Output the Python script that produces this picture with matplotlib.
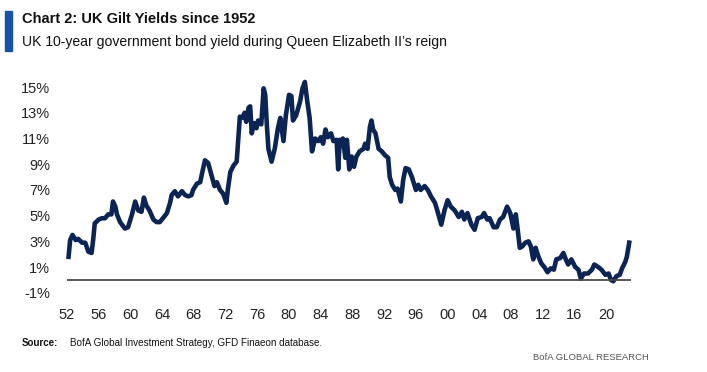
import matplotlib
matplotlib.use('Agg')
import matplotlib.pyplot as plt
from matplotlib.patches import Rectangle

# 10-year gilt yield (%), by fractional year
years = [
    1952.2, 1952.4, 1952.7, 1953.1, 1953.4, 1953.9, 1954.3, 1954.7, 1955.1, 1955.3,
    1955.5, 1956.0, 1956.4, 1956.8, 1957.2, 1957.6, 1957.8, 1958.1, 1958.3, 1958.7,
    1959.3, 1959.7, 1960.2, 1960.6, 1961.0, 1961.4, 1961.7, 1962.0, 1962.4, 1962.9,
    1963.3, 1963.7, 1964.1, 1964.6, 1965.0, 1965.2, 1965.6, 1966.0, 1966.5, 1966.9,
    1967.3, 1967.7, 1967.9, 1968.4, 1968.8, 1969.0, 1969.4, 1969.8, 1970.2, 1970.6,
    1970.9, 1971.3, 1971.7, 1972.1, 1972.3, 1972.6, 1973.0, 1973.4, 1973.6, 1973.8,
    1974.1, 1974.4, 1974.6, 1974.9, 1975.1, 1975.3, 1975.6, 1975.9, 1976.1, 1976.5,
    1976.8, 1977.0, 1977.2, 1977.4, 1977.8, 1978.2, 1978.6, 1978.9, 1979.3, 1979.6,
    1980.0, 1980.3, 1980.5, 1980.9, 1981.4, 1981.7, 1982.0, 1982.3, 1982.6, 1982.9,
    1983.3, 1983.7, 1984.0, 1984.3, 1984.6, 1984.9, 1985.3, 1985.6, 1986.0, 1986.2,
    1986.4, 1986.6, 1986.8, 1987.1, 1987.3, 1987.6, 1987.9, 1988.2, 1988.5, 1988.9,
    1989.4, 1989.6, 1989.9, 1990.2, 1990.4, 1990.6, 1990.9, 1991.3, 1991.7, 1992.1,
    1992.5, 1992.7, 1993.0, 1993.4, 1993.7, 1994.1, 1994.4, 1994.7, 1995.1, 1995.5,
    1996.0, 1996.3, 1996.6, 1997.1, 1997.5, 1997.9, 1998.4, 1998.7, 1999.2, 1999.6,
    2000.0, 2000.4, 2000.9, 2001.4, 2001.8, 2002.1, 2002.5, 2003.0, 2003.4, 2003.8,
    2004.3, 2004.6, 2005.0, 2005.3, 2005.8, 2006.2, 2006.6, 2007.0, 2007.5, 2007.9,
    2008.3, 2008.6, 2008.8, 2009.1, 2009.4, 2009.8, 2010.2, 2010.5, 2010.8, 2011.1,
    2011.4, 2011.8, 2012.2, 2012.6, 2013.0, 2013.4, 2013.7, 2014.2, 2014.6, 2014.9,
    2015.2, 2015.6, 2016.1, 2016.5, 2016.8, 2017.2, 2017.7, 2018.2, 2018.5, 2019.0,
    2019.4, 2019.9, 2020.3, 2020.6, 2020.9, 2021.3, 2021.7, 2022.0, 2022.4, 2022.6,
    2022.9,
]
yields = [
    1.8, 3.1, 3.5, 3.1, 3.2, 2.9, 2.9, 2.2, 2.1, 3.1,
    4.4, 4.7, 4.8, 4.8, 5.1, 5.1, 6.1, 5.7, 5.1, 4.5,
    4.0, 4.1, 5.1, 6.1, 5.4, 5.3, 6.4, 5.8, 5.4, 4.7,
    4.5, 4.5, 4.8, 5.2, 6.0, 6.6, 6.9, 6.5, 6.9, 6.6,
    6.5, 6.6, 7.0, 7.5, 7.6, 8.2, 9.3, 9.1, 8.2, 7.3,
    7.6, 7.0, 6.7, 6.0, 7.1, 8.4, 8.9, 9.2, 11.0, 12.7,
    12.6, 13.0, 12.3, 13.4, 13.5, 11.4, 12.2, 11.8, 12.4, 12.1,
    14.9, 14.4, 12.1, 10.2, 9.2, 10.2, 11.8, 12.6, 10.8, 12.8,
    14.4, 14.3, 12.4, 12.8, 13.9, 14.9, 15.4, 13.9, 12.6, 10.0,
    11.0, 10.8, 11.1, 10.6, 11.7, 11.1, 11.4, 10.8, 10.9, 8.6,
    10.9, 10.6, 11.0, 9.5, 10.9, 8.6, 9.6, 8.8, 9.6, 10.0,
    10.2, 10.6, 10.2, 11.9, 12.4, 11.7, 11.4, 10.2, 10.0, 9.7,
    9.5, 8.0, 7.4, 7.0, 7.1, 6.1, 7.8, 8.7, 8.6, 8.0,
    7.0, 7.4, 7.0, 7.3, 7.0, 6.5, 6.0, 5.4, 4.3, 5.4,
    6.2, 5.7, 5.4, 4.9, 5.3, 4.7, 5.2, 4.3, 3.9, 4.8,
    4.9, 5.2, 4.7, 4.8, 4.1, 4.1, 4.7, 4.9, 5.7, 5.2,
    4.0, 5.1, 4.1, 2.5, 2.6, 2.9, 3.0, 2.6, 1.6, 2.5,
    1.9, 1.3, 1.0, 0.6, 0.9, 0.8, 1.6, 1.7, 2.1, 1.6,
    1.2, 1.6, 1.0, 0.8, 0.1, 0.5, 0.5, 0.8, 1.2, 1.0,
    0.8, 0.4, 0.5, 0.0, -0.1, 0.3, 0.4, 0.9, 1.4, 1.8,
    2.9,
]
y_ticks = [-1, 1, 3, 5, 7, 9, 11, 13, 15]
x_ticks = list(range(1952, 2021, 4))
x_labels = [str(y)[2:] for y in x_ticks]

plt.rcParams['font.family'] = ['Liberation Sans', 'DejaVu Sans']

W, H = 707, 372
fig = plt.figure(figsize=(W / 100, H / 100), dpi=100)

# axes placed in pixel terms: left 60, right 640, top 75, bottom 300
ax = fig.add_axes([60 / W, 1 - 300 / H, 580 / W, 225 / H])
ax.plot(years, yields, color='#0c2454', lw=3.3, solid_joinstyle='round')
ax.hlines(0, 1952, 2023.1, color='#4a4a4a', lw=1.3)

ax.set_xlim(1951.12, 2024.26)
ax.set_ylim(-1.56, 15.94)
ax.set_yticks(y_ticks)
ax.set_yticklabels([f'{v}%' for v in y_ticks])
ax.set_xticks(x_ticks)
ax.set_xticklabels(x_labels)
ax.tick_params(length=0, labelsize=10.5, colors='#222222')
ax.tick_params(axis='y', pad=7)
ax.tick_params(axis='x', pad=6)
for s in ax.spines.values():
    s.set_visible(False)

# header
fig.patches.append(Rectangle((5 / W, 1 - 51 / H), 7 / W, 40 / H,
                             transform=fig.transFigure, color='#1552a8'))
fig.text(22 / W, 1 - 19 / H, 'Chart 2: UK Gilt Yields since 1952',
         fontsize=10.5, fontweight='bold', va='center', color='#111111')
fig.text(22 / W, 1 - 42 / H, 'UK 10-year government bond yield during Queen Elizabeth II\u2019s reign',
         fontsize=10.1, va='center', color='#111111')

# footer
fig.text(22 / W, 1 - 343 / H, 'Source:', fontsize=7, fontweight='bold',
         va='center', color='#111111')
fig.text(70 / W, 1 - 343 / H, 'BofA Global Investment Strategy, GFD Finaeon database.',
         fontsize=7.1, va='center', color='#111111')
fig.text(649 / W, 1 - 357 / H, 'BofA GLOBAL RESEARCH', fontsize=6.8, ha='right',
         va='center', color='#555555')

fig.savefig('out.png', dpi=100)
